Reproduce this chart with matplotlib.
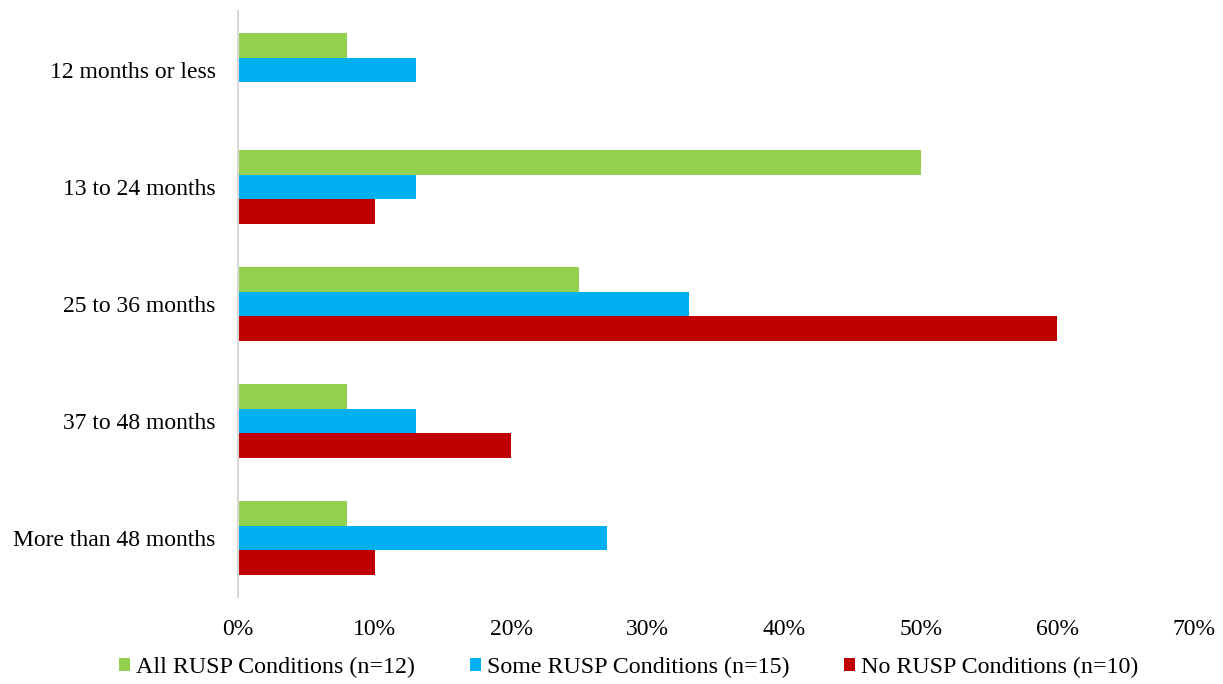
import matplotlib.pyplot as plt
import numpy as np

categories = ['12 months or less', '13 to 24 months', '25 to 36 months',
              '37 to 48 months', 'More than 48 months']
all_rusp = [8, 50, 25, 8, 8]
some_rusp = [13, 13, 33, 13, 27]
no_rusp = [0, 10, 60, 20, 10]
series_labels = ['All RUSP Conditions (n=12)', 'Some RUSP Conditions (n=15)',
                 'No RUSP Conditions (n=10)']
colors = ['#92D050', '#00B0F0', '#C00000']
xticks = [0, 10, 20, 30, 40, 50, 60, 70]

plt.rcParams['font.family'] = ['Liberation Serif', 'DejaVu Serif']

fig = plt.figure(figsize=(12.23, 6.84), dpi=100)
ax = fig.add_axes([0.1946, 0.1279, 0.7817, 0.8553])

y = np.arange(len(categories))
h = 0.209
for k, (vals, lab, col) in enumerate(zip([all_rusp, some_rusp, no_rusp], series_labels, colors)):
    ax.barh(y + (k - 1) * h, vals, height=h, color=col, label=lab)

ax.set_ylim(len(categories) - 0.5, -0.5)
ax.set_xlim(0, 70)
ax.set_yticks(y)
ax.set_yticklabels(categories, fontsize=17)
ax.set_xticks(xticks)
ax.set_xticklabels([f'{t}%' for t in xticks], fontsize=17)
ax.tick_params(axis='both', length=0)
ax.tick_params(axis='x', pad=16)
ax.tick_params(axis='y', pad=16)

for s in ['top', 'right', 'bottom']:
    ax.spines[s].set_visible(False)
ax.spines['left'].set_color('#d9d9d9')
ax.spines['left'].set_linewidth(1.5)

fig.legend(loc='center', bbox_to_anchor=(0.514, 0.024), ncol=3, frameon=False,
           fontsize=17.3, handlelength=0.45, handleheight=0.45,
           handletextpad=0.25, columnspacing=2.3, borderpad=0)

fig.savefig('out.png', dpi=100)
